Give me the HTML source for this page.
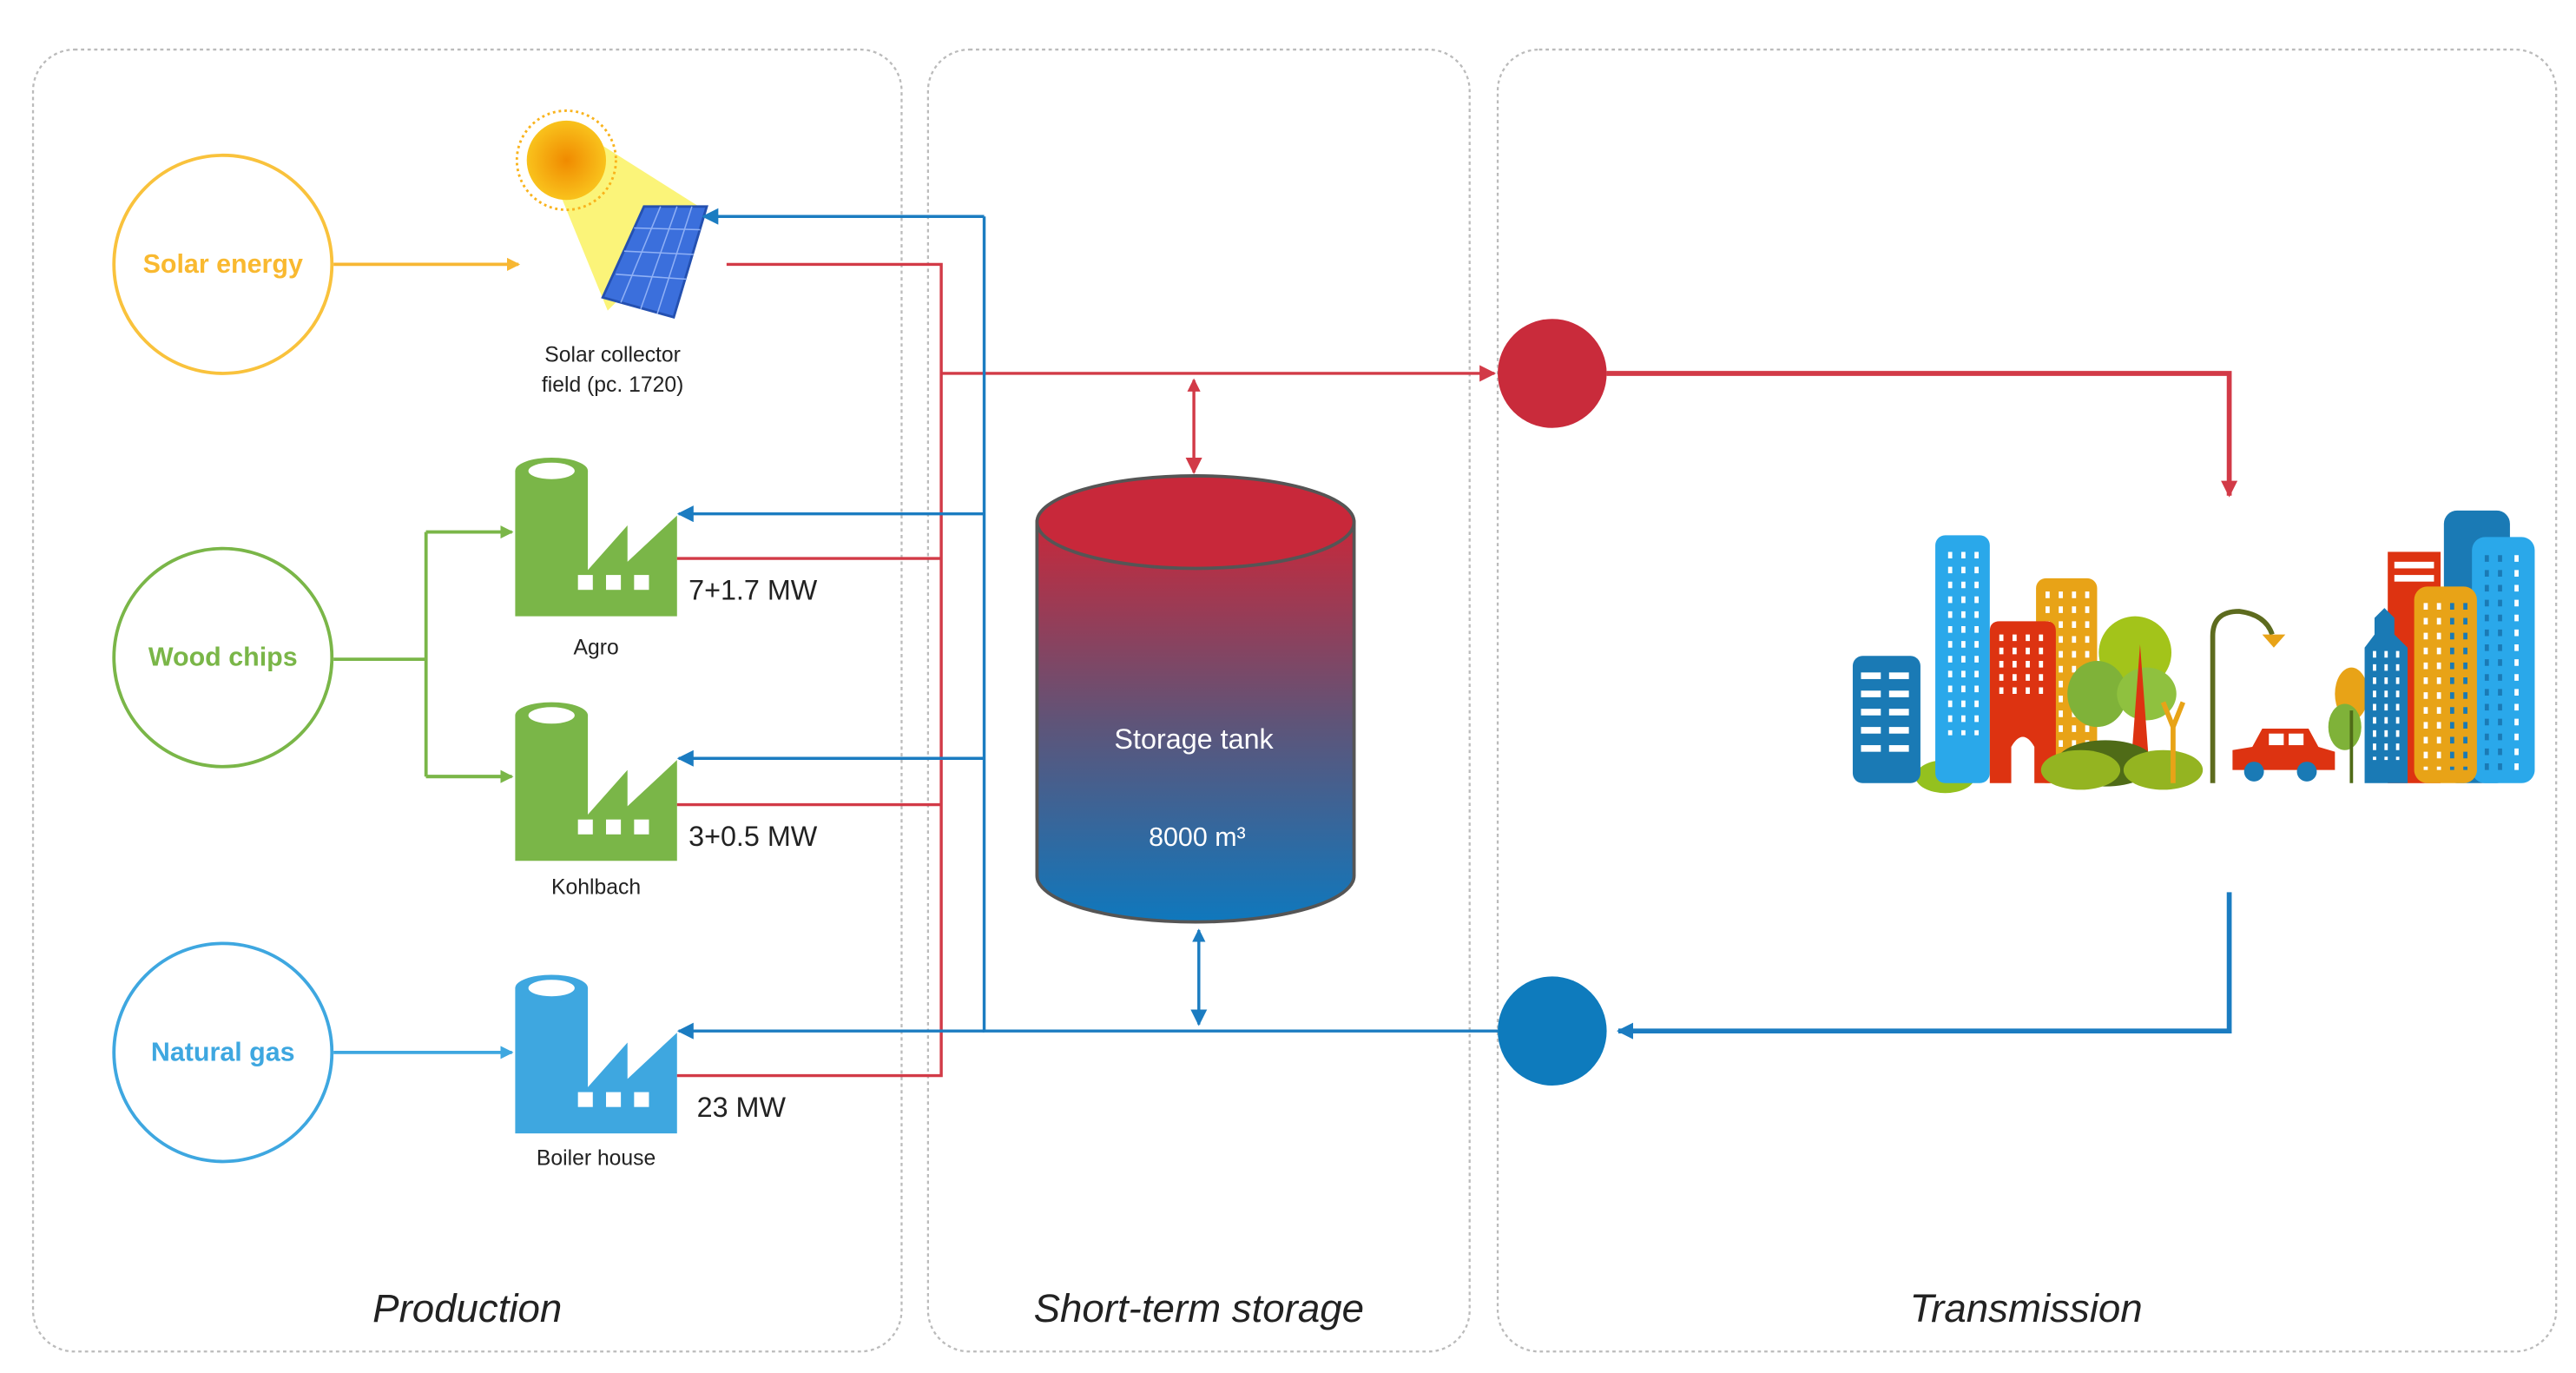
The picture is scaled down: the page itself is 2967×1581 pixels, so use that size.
<!DOCTYPE html>
<html><head><meta charset="utf-8"><style>
html,body{margin:0;padding:0;background:#fff;}
svg{display:block;}
text{font-family:"Liberation Sans",sans-serif;}
</style></head><body>
<svg width="2967" height="1581" viewBox="0 0 1560 831" preserveAspectRatio="none" xmlns="http://www.w3.org/2000/svg">
<defs>
<marker id="ay" markerWidth="8" markerHeight="8" refX="7" refY="4" orient="auto" markerUnits="userSpaceOnUse"><path d="M0,0 L8,4 L0,8 Z" fill="#f7b733"/></marker>
<marker id="ag" markerWidth="8" markerHeight="8" refX="7" refY="4" orient="auto" markerUnits="userSpaceOnUse"><path d="M0,0 L8,4 L0,8 Z" fill="#7ab648"/></marker>
<marker id="alb" markerWidth="8" markerHeight="8" refX="7" refY="4" orient="auto" markerUnits="userSpaceOnUse"><path d="M0,0 L8,4 L0,8 Z" fill="#3ea7e0"/></marker>
<marker id="ab" markerWidth="10" markerHeight="10" refX="9" refY="5" orient="auto" markerUnits="userSpaceOnUse"><path d="M0,0 L10,5 L0,10 Z" fill="#1b7cc1"/></marker>
<marker id="ar" markerWidth="10" markerHeight="10" refX="9" refY="5" orient="auto" markerUnits="userSpaceOnUse"><path d="M0,0 L10,5 L0,10 Z" fill="#d23a47"/></marker>
<marker id="arS" markerWidth="8" markerHeight="8" refX="1" refY="4" orient="auto" markerUnits="userSpaceOnUse"><path d="M8,0 L0,4 L8,8 Z" fill="#d23a47"/></marker>
<marker id="abS" markerWidth="8" markerHeight="8" refX="1" refY="4" orient="auto" markerUnits="userSpaceOnUse"><path d="M8,0 L0,4 L8,8 Z" fill="#1b7cc1"/></marker>
<linearGradient id="tank" x1="0" y1="0" x2="0" y2="1"><stop offset="0" stop-color="#c8283a"/><stop offset="0.5" stop-color="#5f5478"/><stop offset="1" stop-color="#0f78bd"/></linearGradient>
<radialGradient id="sun"><stop offset="0" stop-color="#f08a00"/><stop offset="1" stop-color="#f9c21c"/></radialGradient>
</defs>

<!-- panels -->
<g fill="none" stroke="#bbb" stroke-width="1.2" stroke-dasharray="2,2">
<rect x="20" y="30" width="526" height="788" rx="25"/>
<rect x="562" y="30" width="328" height="788" rx="25"/>
<rect x="907" y="30" width="641" height="788" rx="25"/>
</g>
<text x="283" y="800" font-size="24" font-style="italic" text-anchor="middle" fill="#222">Production</text>
<text x="726" y="800" font-size="24" font-style="italic" text-anchor="middle" fill="#222">Short-term storage</text>
<text x="1227" y="800" font-size="24" font-style="italic" text-anchor="middle" fill="#222">Transmission</text>

<!-- source circles -->
<circle cx="135" cy="160" r="66" fill="none" stroke="#f9c23c" stroke-width="2"/>
<text x="135" y="165" font-size="16" font-weight="bold" fill="#f9b930" text-anchor="middle">Solar energy</text>
<circle cx="135" cy="398" r="66" fill="none" stroke="#7ab648" stroke-width="2"/>
<text x="135" y="403" font-size="16" font-weight="bold" fill="#7ab648" text-anchor="middle">Wood chips</text>
<circle cx="135" cy="637" r="66" fill="none" stroke="#3ea7e0" stroke-width="2"/>
<text x="135" y="642" font-size="16" font-weight="bold" fill="#3ea7e0" text-anchor="middle">Natural gas</text>

<line x1="202" y1="160" x2="314" y2="160" stroke="#f7b733" stroke-width="2" marker-end="url(#ay)"/>
<path d="M202,399 H258 M258,322 V470 M258,322 H309 M258,470 H309" fill="none" stroke="#7ab648" stroke-width="2"/>
<line x1="258" y1="322" x2="310" y2="322" stroke="#7ab648" stroke-width="2" marker-end="url(#ag)"/>
<line x1="258" y1="470" x2="310" y2="470" stroke="#7ab648" stroke-width="2" marker-end="url(#ag)"/>
<line x1="202" y1="637" x2="310" y2="637" stroke="#3ea7e0" stroke-width="2" marker-end="url(#alb)"/>

<!-- solar panel icon -->
<polygon points="330,95 360,85 428,128 368,188" fill="#fbf36a" opacity="0.9"/>
<g stroke="#f9b31c" stroke-width="1.5">
<circle cx="343" cy="97" r="30" fill="none" stroke-dasharray="1.5,2"/>
</g>
<circle cx="343" cy="97" r="24" fill="url(#sun)"/>
<polygon points="390,125 428,125 408,192 365,180" fill="#3b6fdc" stroke="#2450b0" stroke-width="1.5"/>
<g stroke="#8fb0f5" stroke-width="0.8">
<line x1="384" y1="138" x2="424" y2="139"/><line x1="378" y1="152" x2="420" y2="154"/><line x1="373" y1="166" x2="416" y2="169"/>
<line x1="400" y1="125" x2="376" y2="183"/><line x1="410" y1="125" x2="388" y2="187"/><line x1="419" y1="125" x2="398" y2="190"/>
</g>
<text x="371" y="219" font-size="13" text-anchor="middle" fill="#222">Solar collector</text>
<text x="371" y="237" font-size="13" text-anchor="middle" fill="#222">field (pc. 1720)</text>

<!-- factories -->
<g id="f1" fill="#7ab648">
<path d="M312,285 H356 V345 L380,318 V340 L410,312 V373 H312 Z"/>
<ellipse cx="334" cy="285" rx="22" ry="8"/>
</g>
<ellipse cx="334" cy="285" rx="14" ry="5" fill="#fff"/>
<g fill="#fff"><rect x="350" y="348" width="9" height="9"/><rect x="367" y="348" width="9" height="9"/><rect x="384" y="348" width="9" height="9"/></g>
<text x="361" y="396" font-size="13" text-anchor="middle" fill="#222">Agro</text>
<text x="417" y="363" font-size="17" fill="#222">7+1.7 MW</text>

<g fill="#7ab648">
<path d="M312,433 H356 V493 L380,466 V488 L410,460 V521 H312 Z"/>
<ellipse cx="334" cy="433" rx="22" ry="8"/>
</g>
<ellipse cx="334" cy="433" rx="14" ry="5" fill="#fff"/>
<g fill="#fff"><rect x="350" y="496" width="9" height="9"/><rect x="367" y="496" width="9" height="9"/><rect x="384" y="496" width="9" height="9"/></g>
<text x="361" y="541" font-size="13" text-anchor="middle" fill="#222">Kohlbach</text>
<text x="417" y="512" font-size="17" fill="#222">3+0.5 MW</text>

<g fill="#3ea7e0">
<path d="M312,598 H356 V658 L380,631 V653 L410,625 V686 H312 Z"/>
<ellipse cx="334" cy="598" rx="22" ry="8"/>
</g>
<ellipse cx="334" cy="598" rx="14" ry="5" fill="#fff"/>
<g fill="#fff"><rect x="350" y="661" width="9" height="9"/><rect x="367" y="661" width="9" height="9"/><rect x="384" y="661" width="9" height="9"/></g>
<text x="361" y="705" font-size="13" text-anchor="middle" fill="#222">Boiler house</text>
<text x="422" y="676" font-size="17" fill="#222">23 MW</text>

<!-- red supply lines -->
<path d="M440,160 H570 V651 H410 M410,338 H570 M410,487 H570" fill="none" stroke="#d23a47" stroke-width="1.8"/>
<line x1="570" y1="226" x2="905" y2="226" stroke="#d23a47" stroke-width="1.8" marker-end="url(#ar)"/>
<!-- blue return lines -->
<path d="M596,131 V624 H907" fill="none" stroke="#1b7cc1" stroke-width="1.8"/>
<line x1="596" y1="131" x2="426" y2="131" stroke="#1b7cc1" stroke-width="1.8" marker-end="url(#ab)"/>
<line x1="596" y1="311" x2="411" y2="311" stroke="#1b7cc1" stroke-width="1.8" marker-end="url(#ab)"/>
<line x1="596" y1="459" x2="411" y2="459" stroke="#1b7cc1" stroke-width="1.8" marker-end="url(#ab)"/>
<line x1="596" y1="624" x2="411" y2="624" stroke="#1b7cc1" stroke-width="1.8" marker-end="url(#ab)"/>

<!-- tank -->
<path d="M628,316 V530 A96,28 0 0 0 820,530 V316 Z" fill="url(#tank)" stroke="#555" stroke-width="2"/>
<ellipse cx="724" cy="316" rx="96" ry="28" fill="#c8283a" stroke="#555" stroke-width="2"/>
<text x="723" y="453" font-size="17" fill="#fff" text-anchor="middle">Storage tank</text>
<text x="725" y="512" font-size="16" fill="#fff" text-anchor="middle">8000 m³</text>
<line x1="723" y1="230" x2="723" y2="286" stroke="#d23a47" stroke-width="1.8" marker-start="url(#arS)" marker-end="url(#ar)"/>
<line x1="726" y1="563" x2="726" y2="620" stroke="#1b7cc1" stroke-width="1.8" marker-start="url(#abS)" marker-end="url(#ab)"/>

<!-- transmission -->
<circle cx="940" cy="226" r="33" fill="#c92b3b"/>
<circle cx="940" cy="624" r="33" fill="#0e7bbd"/>
<path d="M973,226 H1350 V300" fill="none" stroke="#d23a47" stroke-width="3" marker-end="url(#ar)"/>
<path d="M1350,540 V624 H980" fill="none" stroke="#1b7cc1" stroke-width="3" marker-end="url(#ab)"/>

<!-- city -->
<g>
<ellipse cx="1178" cy="470" rx="18" ry="10" fill="#94c11f"/>
<rect x="1122" y="397" width="41" height="77" rx="6" fill="#1a7ab5"/>
<g fill="#fff"><rect x="1127" y="407" width="12" height="4"/><rect x="1144" y="407" width="12" height="4"/><rect x="1127" y="418" width="12" height="4"/><rect x="1144" y="418" width="12" height="4"/><rect x="1127" y="429" width="12" height="4"/><rect x="1144" y="429" width="12" height="4"/><rect x="1127" y="440" width="12" height="4"/><rect x="1144" y="440" width="12" height="4"/><rect x="1127" y="451" width="12" height="4"/><rect x="1144" y="451" width="12" height="4"/></g>
<rect x="1172" y="324" width="33" height="150" rx="6" fill="#2aa8ea"/>
<g fill="#fff" opacity="0.9"><rect x="1178" y="332" width="22" height="110" fill="url(#none)"/></g>
<rect x="1178" y="332" width="22" height="110" fill="#2aa8ea"/>
<g stroke="#fff" stroke-width="2.5" stroke-dasharray="4,5"><line x1="1181" y1="334" x2="1181" y2="445"/><line x1="1189" y1="334" x2="1189" y2="445"/><line x1="1197" y1="334" x2="1197" y2="445"/></g>
<rect x="1233" y="350" width="37" height="124" rx="6" fill="#e8a317"/>
<g stroke="#fff" stroke-width="2.5" stroke-dasharray="4,5"><line x1="1240" y1="358" x2="1240" y2="460"/><line x1="1248" y1="358" x2="1248" y2="460"/><line x1="1256" y1="358" x2="1256" y2="460"/><line x1="1264" y1="358" x2="1264" y2="460"/></g>
<path d="M1205,474 V382 Q1205,376 1211,376 H1239 Q1245,376 1245,382 V474 H1232 V452 Q1225,440 1218,452 V474 Z" fill="#dd3311"/>
<g stroke="#fff" stroke-width="2.5" stroke-dasharray="4,4"><line x1="1212" y1="384" x2="1212" y2="420"/><line x1="1220" y1="384" x2="1220" y2="420"/><line x1="1228" y1="384" x2="1228" y2="420"/><line x1="1236" y1="384" x2="1236" y2="420"/></g>
<ellipse cx="1293" cy="395" rx="22" ry="22" fill="#a3c41a"/>
<ellipse cx="1270" cy="420" rx="18" ry="20" fill="#7fb239"/>
<ellipse cx="1300" cy="420" rx="18" ry="16" fill="#8fc13f"/>
<polygon points="1290,470 1296,390 1302,470" fill="#dd3311"/>
<ellipse cx="1275" cy="462" rx="30" ry="14" fill="#4f6b17"/>
<ellipse cx="1260" cy="466" rx="24" ry="12" fill="#94b421"/>
<ellipse cx="1310" cy="466" rx="24" ry="12" fill="#94b421"/>
<path d="M1316,474 V440 M1310,425 L1316,440 L1322,425" stroke="#e8a317" stroke-width="3" fill="none"/>
<path d="M1340,474 V385 Q1340,370 1356,370 Q1372,372 1376,384" stroke="#5d6b1e" stroke-width="3" fill="none"/>
<path d="M1370,384 H1384 L1377,392 Z" fill="#e8a317"/>
<path d="M1352,466 V454 L1364,452 L1370,441 H1398 L1404,452 L1414,455 V466 Z" fill="#dd3311"/>
<rect x="1374" y="444" width="9" height="7" fill="#fff"/><rect x="1386" y="444" width="9" height="7" fill="#fff"/>
<circle cx="1365" cy="467" r="6" fill="#1a7ab5"/><circle cx="1397" cy="467" r="6" fill="#1a7ab5"/>
<ellipse cx="1424" cy="420" rx="10" ry="16" fill="#e8a317"/>
<ellipse cx="1420" cy="440" rx="10" ry="14" fill="#7fb239"/>
<line x1="1424" y1="430" x2="1424" y2="474" stroke="#4f6b17" stroke-width="2"/>
<rect x="1480" y="309" width="40" height="165" rx="8" fill="#1a7ab5"/>
<rect x="1446" y="334" width="32" height="140" fill="#dd3311"/>
<rect x="1450" y="340" width="24" height="4" fill="#fff"/><rect x="1450" y="348" width="24" height="4" fill="#fff"/>
<rect x="1497" y="325" width="38" height="149" rx="8" fill="#2aa8ea"/>
<g stroke="#1a7ab5" stroke-width="2.5" stroke-dasharray="4,5"><line x1="1506" y1="336" x2="1506" y2="470"/><line x1="1514" y1="336" x2="1514" y2="470"/></g>
<g stroke="#fff" stroke-width="2.5" stroke-dasharray="4,5"><line x1="1524" y1="336" x2="1524" y2="470"/></g>
<rect x="1462" y="355" width="38" height="119" rx="8" fill="#e8a317"/>
<g stroke="#fff" stroke-width="2.5" stroke-dasharray="4,5"><line x1="1469" y1="365" x2="1469" y2="466"/><line x1="1477" y1="365" x2="1477" y2="466"/></g>
<g stroke="#1a7ab5" stroke-width="2.5" stroke-dasharray="4,5"><line x1="1485" y1="365" x2="1485" y2="466"/><line x1="1493" y1="365" x2="1493" y2="466"/></g>
<path d="M1432,474 V392 L1438,384 V374 L1444,368 L1450,374 V384 L1458,392 V474 Z" fill="#1a7ab5"/>
<g stroke="#fff" stroke-width="2" stroke-dasharray="4,4"><line x1="1438" y1="394" x2="1438" y2="460"/><line x1="1445" y1="394" x2="1445" y2="460"/><line x1="1452" y1="394" x2="1452" y2="460"/></g>
</g>
</svg>
</body></html>
